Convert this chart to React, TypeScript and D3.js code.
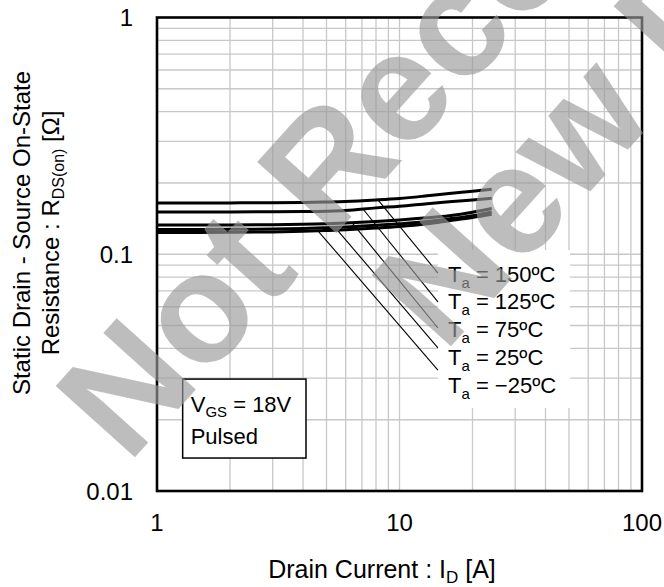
import React from "react";
import * as d3 from "d3";

// ---- data ----
const current = [1, 2, 3, 4, 5, 6, 8, 10, 13, 16, 20, 24];
const r150 = [0.1646, 0.1648, 0.165, 0.1655, 0.1662, 0.167, 0.1695, 0.172, 0.1765, 0.1805, 0.1845, 0.188];
const r125 = [0.151, 0.151, 0.1512, 0.1515, 0.152, 0.153, 0.157, 0.1595, 0.1635, 0.1665, 0.1695, 0.1725];
const r75 = [0.133, 0.133, 0.1332, 0.1338, 0.1345, 0.1355, 0.1375, 0.1395, 0.1425, 0.1455, 0.1505, 0.156];
const r25 = [0.1272, 0.1274, 0.1278, 0.1285, 0.1295, 0.1305, 0.1325, 0.1345, 0.1375, 0.141, 0.1455, 0.151];
const rm25 = [0.1236, 0.1238, 0.1242, 0.125, 0.126, 0.127, 0.129, 0.131, 0.1345, 0.1385, 0.143, 0.1475];
const seriesValues = [r150, r125, r75, r25, rm25];
const seriesTemps = ["150ºC", "125ºC", "75ºC", "25ºC", "−25ºC"];

const xTicks = [1, 10, 100];
const xTickLabels = ["1", "10", "100"];
const yTicks = [0.01, 0.1, 1];
const yTickLabels = ["0.01", "0.1", "1"];

// leader lines: start current on each curve, end point (current, resistance)
const leaderStartI = [8.15, 7.07, 6.37, 5.42, 4.61];
const leaderEndI = 14.4;
const leaderEndR = [0.0833, 0.0629, 0.0488, 0.0402, 0.0324];
const labelI = 15.85;
const labelR = [0.0766, 0.0587, 0.0447, 0.034, 0.0259];
const labelBoxI = [14.4, 50.5];
const labelBoxR = [0.1042, 0.02244];
const condBoxI = [1.276, 4.115];
const condBoxR = [0.0297, 0.01378];
const condTextI = 1.377;
const condTextR = [0.0216, 0.0158];

const W = 664;
const H = 587;
const FONT = "'Liberation Sans', Arial, Helvetica, sans-serif";

function interpLogLog(xs: number[], ys: number[], x: number) {
  const lx = Math.log10(x);
  for (let i = 0; i < xs.length - 1; i++) {
    const a = Math.log10(xs[i]);
    const b = Math.log10(xs[i + 1]);
    if (lx >= a && lx <= b) {
      const t = (lx - a) / (b - a);
      return Math.pow(10, Math.log10(ys[i]) * (1 - t) + Math.log10(ys[i + 1]) * t);
    }
  }
  return ys[ys.length - 1];
}

export default function App() {
  const x = d3.scaleLog().domain([1, 100]).range([157, 642]);
  const y = d3.scaleLog().domain([0.01, 1]).range([491, 17.5]);

  const xGrid: number[] = [];
  for (let d = 1; d < 100; d *= 10) for (let k = 2; k <= 10; k++) if (k * d < 100) xGrid.push(k * d);
  const yGrid: number[] = [];
  for (let d = 0.01; d < 1; d *= 10) for (let k = 2; k <= 10; k++) if (k * d < 0.999) yGrid.push(k * d);

  const line = d3
    .line<number>()
    .x((_, i) => x(current[i]))
    .y((v) => y(v))
    .curve(d3.curveMonotoneX);

  const [x0, x1] = x.range();
  const [y0, y1] = y.range();

  // watermark geometry
  const ang = -48;
  const wmSize = 155;

  return (
    <svg
      width={W}
      height={H}
      style={{ position: "absolute", left: 0, top: 0, background: "#fff" }}
      fontFamily={FONT}
    >
      <defs>
        <clipPath id="plotClip">
          <rect x={x0} y={y1} width={x1 - x0} height={y0 - y1} />
        </clipPath>
      </defs>
      <rect x={0} y={0} width={W} height={H} fill="#fff" />
      {/* grid */}
      <g stroke="#c8c8c8" strokeWidth={1.3}>
        {xGrid.map((v) => (
          <line key={"gx" + v} x1={x(v)} x2={x(v)} y1={y1} y2={y0} />
        ))}
        {yGrid.map((v) => (
          <line key={"gy" + v} x1={x0} x2={x1} y1={y(v)} y2={y(v)} />
        ))}
      </g>
      {/* label background box */}
      <rect
        x={x(labelBoxI[0])}
        y={y(labelBoxR[0])}
        width={x(labelBoxI[1]) - x(labelBoxI[0])}
        height={y(labelBoxR[1]) - y(labelBoxR[0])}
        fill="#fff"
      />
      {/* curves */}
      <g clipPath="url(#plotClip)" fill="none" stroke="#000" strokeWidth={3}>
        {seriesValues.map((s, i) => (
          <path key={"c" + i} d={line(s) || ""} />
        ))}
      </g>
      {/* leader lines */}
      <g stroke="#000" strokeWidth={1.1}>
        {seriesValues.map((s, i) => {
          const si = leaderStartI[i];
          const sr = interpLogLog(current, s, si);
          return (
            <line
              key={"l" + i}
              x1={x(si)}
              y1={y(sr)}
              x2={x(leaderEndI)}
              y2={y(leaderEndR[i])}
            />
          );
        })}
      </g>
      {/* temperature labels */}
      <g fontSize={22} fill="#000">
        {seriesTemps.map((t, i) => (
          <text key={"t" + i} x={x(labelI)} y={y(labelR[i])}>
            <tspan>T</tspan>
            <tspan fontSize={15} dy={6}>a</tspan>
            <tspan dy={-6}>{" = " + t}</tspan>
          </text>
        ))}
      </g>
      {/* condition box */}
      <rect
        x={x(condBoxI[0])}
        y={y(condBoxR[0])}
        width={x(condBoxI[1]) - x(condBoxI[0])}
        height={y(condBoxR[1]) - y(condBoxR[0])}
        fill="#fff"
        stroke="#000"
        strokeWidth={1.5}
      />
      <text x={x(condTextI)} y={y(condTextR[0])} fontSize={22}>
        <tspan>V</tspan>
        <tspan fontSize={15} dy={5}>GS</tspan>
        <tspan dy={-5}> = 18V</tspan>
      </text>
      <text x={x(condTextI)} y={y(condTextR[1])} fontSize={22}>
        Pulsed
      </text>
      {/* frame */}
      <rect x={x0} y={y1} width={x1 - x0} height={y0 - y1} fill="none" stroke="#000" strokeWidth={2.6} />
      {/* tick labels */}
      <g fontSize={24} fill="#000">
        {xTicks.map((v, i) => (
          <text key={"xt" + v} x={x(v)} y={531} textAnchor="middle">
            {xTickLabels[i]}
          </text>
        ))}
        {yTicks.map((v, i) => (
          <text key={"yt" + v} x={133} y={y(v) + 8.5} textAnchor="end">
            {yTickLabels[i]}
          </text>
        ))}
      </g>
      {/* axis titles */}
      <text x={382} y={578} fontSize={25} textAnchor="middle">
        <tspan>Drain Current : I</tspan>
        <tspan fontSize={17} dy={5}>D</tspan>
        <tspan dy={-5}> [A]</tspan>
      </text>
      <g transform="translate(30,233) rotate(-90)">
        <text x={0} y={0} fontSize={24} textAnchor="middle">
          Static Drain - Source On-State
        </text>
      </g>
      <g transform="translate(59,233) rotate(-90)">
        <text x={0} y={0} fontSize={24} textAnchor="middle">
          <tspan>Resistance : R</tspan>
          <tspan fontSize={16} dy={5}>DS(on)</tspan>
          <tspan dy={-5}> [Ω]</tspan>
        </text>
      </g>
      {/* watermark */}
      <g fill="#9a9a9a" fillOpacity={0.65} fontWeight="bold" fontSize={wmSize}>
        <text transform={`translate(128,465) rotate(${ang})`}>Not Recommended for</text>
        <text transform={`translate(444,354) rotate(${ang})`}>New Designs</text>
      </g>
    </svg>
  );
}
